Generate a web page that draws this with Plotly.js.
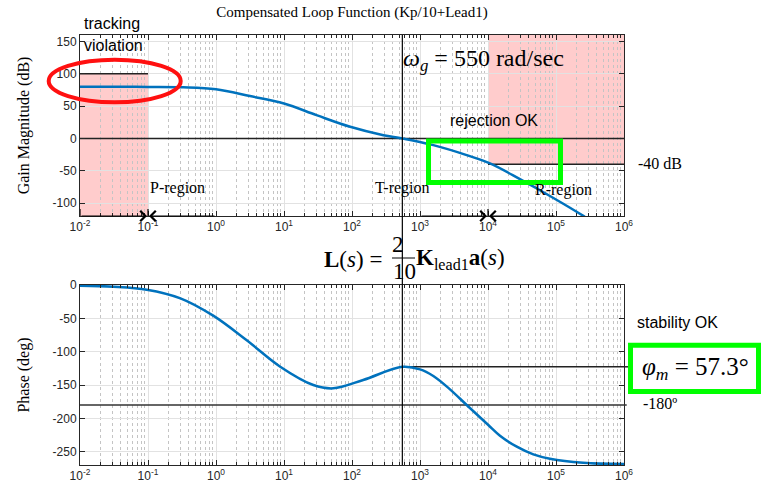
<!DOCTYPE html>
<html><head><meta charset="utf-8">
<script src="https://cdn.plot.ly/plotly-3.0.1.min.js"></script>
<style>html,body{margin:0;padding:0;background:#fff}</style>
</head><body><div id="chart" style="width:761px;height:493px"></div>
<script>
// ---- data ----
const freqGain = [0.01, 0.03, 0.1, 0.33, 1, 3.16, 10, 30, 94, 290, 550, 1570, 4860, 10700, 29500, 81500, 245000, 270000];
const gainDb   = [80, 80, 79.6, 79, 76, 65.5, 54, 36, 18, 5, 0, -10.4, -25.8, -38.7, -63, -89, -119, -122];
const freqPhase = [0.01, 0.031, 0.096, 0.30, 0.91, 2.8, 8.8, 27, 53, 146, 550, 1000, 1570, 2760, 4860, 10100, 15000, 26500, 46400, 81500, 250000, 1000000];
const phaseDeg  = [-1, -2.5, -7, -20, -46, -82.5, -122.5, -150, -155, -142.5, -122.7, -126.5, -136.5, -156.5, -180, -210, -226, -242.5, -254, -260.5, -266.5, -268.5];

const xTickVals = [0.01, 0.1, 1, 10, 100, 1000, 10000, 100000, 1000000];
const xTickText = ['10<sup>-2</sup>','10<sup>-1</sup>','10<sup>0</sup>','10<sup>1</sup>','10<sup>2</sup>','10<sup>3</sup>','10<sup>4</sup>','10<sup>5</sup>','10<sup>6</sup>'];
const gainTickVals = [-100, -50, 0, 50, 100, 150];
const gainTickText = ['-100', '-50', '0', '50', '100', '150'];
const phaseTickVals = [-250, -200, -150, -100, -50, 0];
const phaseTickText = ['-250', '-200', '-150', '-100', '-50', '0'];

const crossoverFreq = 550;       // omega_g
const phaseAtCrossover = -122.7; // -180 + 57.3
const trackBound = 100, trackFreq = 0.1;
const rejectBound = -40, rejectFreq = 10000;

// ---- styling ----
const SERIF = 'Liberation Serif, Times New Roman, serif';
const SANS = 'Liberation Sans, Arial, Helvetica, sans-serif';
const AX = '#262626';
const minorVals = [];
for (let e = -2; e < 6; e++) for (let m = 2; m <= 9; m++) minorVals.push(m * Math.pow(10, e));

function xAxis(extra) {
  return Object.assign({
    type: 'log', range: [-2, 6], tickmode: 'array', tickvals: xTickVals, ticktext: xTickText,
    ticks: 'inside', ticklen: 5, tickcolor: AX, showline: true, linecolor: AX, linewidth: 1,
    mirror: 'ticks', showgrid: true, gridcolor: '#e2e2e2', gridwidth: 1, zeroline: false,
    tickfont: {family: SANS, size: 12, color: AX},
    minor: {tickmode: 'array', tickvals: minorVals, ticks: 'inside', ticklen: 3, tickcolor: AX,
            showgrid: true, gridcolor: '#c4c4c4', griddash: 'dot', gridwidth: 1}
  }, extra);
}
function yAxis(extra) {
  return Object.assign({
    tickmode: 'array', ticks: 'inside', ticklen: 5, tickcolor: AX, showline: true, linecolor: AX,
    linewidth: 1, mirror: 'ticks', showgrid: true, gridcolor: '#e2e2e2', zeroline: false,
    tickfont: {family: SANS, size: 12, color: AX}
  }, extra);
}

const traces = [
  {x: freqGain, y: gainDb, xaxis: 'x', yaxis: 'y', mode: 'lines', hoverinfo: 'skip',
   line: {color: '#0072BD', width: 2.5, shape: 'spline', smoothing: 1}},
  {x: freqPhase, y: phaseDeg, xaxis: 'x2', yaxis: 'y2', mode: 'lines', hoverinfo: 'skip',
   line: {color: '#0072BD', width: 2.5, shape: 'spline', smoothing: 1}}
];

// paper-coordinate helpers for decorations (plot area: x 80..624, y 35..465)
const px = v => (v - 80) / 544;
const py = v => (465 - v) / 430;

const shapes = [
  {type: 'rect', xref: 'x', yref: 'y', x0: 0.01, x1: trackFreq, y0: -120, y1: trackBound,
   fillcolor: 'rgba(255,0,0,0.2)', line: {width: 0}, layer: 'below'},
  {type: 'line', xref: 'x', yref: 'y', x0: 0.01, x1: trackFreq, y0: trackBound, y1: trackBound,
   line: {color: '#222', width: 1.5}, layer: 'between'},
  {type: 'rect', xref: 'x', yref: 'y', x0: rejectFreq, x1: 1e6, y0: rejectBound, y1: 160,
   fillcolor: 'rgba(255,0,0,0.2)', line: {width: 0}, layer: 'below'},
  {type: 'line', xref: 'x', yref: 'y', x0: rejectFreq, x1: 1e6, y0: rejectBound, y1: rejectBound,
   line: {color: '#222', width: 1.5}, layer: 'between'},
  {type: 'line', xref: 'x', yref: 'y', x0: 0.01, x1: 1e6, y0: 0, y1: 0,
   line: {color: '#222', width: 1.5}, layer: 'between'},
  {type: 'line', xref: 'x2', yref: 'y2', x0: 0.01, x1: 1e6, y0: -180, y1: -180,
   line: {color: '#333', width: 1.5}, layer: 'between'},
  {type: 'line', xref: 'paper', yref: 'y2', x0: 1, x1: 1.005, y0: -180, y1: -180,
   line: {color: '#333', width: 1.5}},
  {type: 'line', xref: 'x2', yref: 'y2', x0: crossoverFreq, x1: 1e6, y0: phaseAtCrossover, y1: phaseAtCrossover,
   line: {color: '#222', width: 1.5}, layer: 'between'},
  {type: 'line', xref: 'paper', yref: 'y2', x0: 1, x1: 1.01, y0: phaseAtCrossover, y1: phaseAtCrossover,
   line: {color: '#222', width: 1.5}},
  {type: 'line', xref: 'x', yref: 'paper', x0: crossoverFreq, x1: crossoverFreq, y0: 0, y1: 1,
   line: {color: '#000', width: 1.2}},
  {type: 'line', xref: 'x', yref: 'y', x0: 0.01, x1: 0.01, y0: -109, y1: -125, line: {color: '#000', width: 1.2}},
  {type: 'line', xref: 'x', yref: 'y', x0: trackFreq, x1: trackFreq, y0: -109, y1: -125, line: {color: '#000', width: 1.2}},
  {type: 'line', xref: 'x', yref: 'y', x0: rejectFreq, x1: rejectFreq, y0: -109, y1: -125, line: {color: '#000', width: 1.2}},
  {type: 'circle', xref: 'paper', yref: 'paper', x0: px(48.7), x1: px(180.7), y0: py(102.3), y1: py(59.7),
   line: {color: '#ff1010', width: 4}},
  {type: 'rect', xref: 'paper', yref: 'paper', x0: px(428.5), x1: px(560.5), y0: py(182.5), y1: py(141),
   line: {color: '#00ff00', width: 5}},
  {type: 'rect', xref: 'paper', yref: 'paper', x0: px(630.5), x1: px(758.5), y0: py(391.5), y1: py(345.2),
   fillcolor: '#ffffff', line: {color: '#00ff00', width: 5}},
  {type: 'line', xref: 'paper', yref: 'paper', x0: px(392), x1: px(415), y0: py(258), y1: py(258),
   line: {color: '#000', width: 1}}
];

function txt(text, x, y, font, xanchor) {
  return {text: text, xref: 'paper', yref: 'paper', x: x, y: y, showarrow: false,
          xanchor: xanchor || 'left', yanchor: 'middle', font: font};
}
const fSans = {family: SANS, size: 16, color: '#000'};
const fSerif = {family: SERIF, size: 16, color: '#000'};
const fMath = {family: SERIF, size: 23, color: '#000'};

function arrow(headX, tailX) {
  return {xref: 'x', yref: 'y', axref: 'x', ayref: 'y', x: Math.log10(headX), y: -120,
          ax: Math.log10(tailX), ay: -120, text: '', showarrow: true, arrowhead: 4,
          arrowsize: 2, arrowwidth: 1, arrowcolor: '#000', standoff: 1};
}

const annotations = [
  txt('tracking', px(82), py(23), fSans),
  txt('violation', px(82), py(45), fSans),
  txt('<i>ω</i><sub><i>g</i></sub> = 550 rad/sec', px(401), py(60), {family: SERIF, size: 24, color: '#000'}),
  txt('rejection OK', px(494), py(120), fSans, 'center'),
  txt('-40 dB', px(636), py(163), fSerif),
  txt('P-region', px(148), py(188), fSerif),
  txt('T-region', px(373), py(188), fSerif),
  txt('R-region', px(533), py(190), fSerif),
  txt('<b>L</b>(<i>s</i>) =', px(384), py(259), fMath, 'right'),
  txt('2', px(398), py(244), fMath, 'center'),
  txt('10', px(404), py(271), fMath, 'center'),
  txt('<b>K</b><sub>lead1</sub><b>a</b>(<i>s</i>)', px(414), py(259), fMath),
  txt('stability OK', px(635), py(322), fSans),
  txt('<i>φ</i><sub><i>m</i></sub> = 57.3°', px(695), py(368), {family: SERIF, size: 25, color: '#000'}, 'center'),
  txt('-180º', px(641), py(403), fSerif),
  arrow(trackFreq, 0.01),
  arrow(trackFreq, 1),
  arrow(rejectFreq, 1000),
  arrow(rejectFreq, 100000)
];

const layout = {
  width: 761, height: 493,
  margin: {l: 80, r: 137, t: 35, b: 28},
  paper_bgcolor: '#ffffff', plot_bgcolor: '#ffffff',
  showlegend: false,
  title: {text: 'Compensated Loop Function (Kp/10+Lead1)', font: {family: SERIF, size: 15, color: '#000'},
          xref: 'paper', x: 0.5, xanchor: 'center', yref: 'container', y: 1 - 12 / 493, yanchor: 'middle'},
  xaxis: xAxis({anchor: 'y', domain: [0, 1]}),
  yaxis: yAxis({anchor: 'x', domain: [(465 - 216) / 430, 1], range: [-120, 160],
                tickvals: gainTickVals, ticktext: gainTickText,
                title: {text: 'Gain Magnitude (dB)', font: {family: SERIF, size: 16, color: '#000'}, standoff: 18}}),
  xaxis2: xAxis({anchor: 'y2', domain: [0, 1]}),
  yaxis2: yAxis({anchor: 'x2', domain: [0, (465 - 285) / 430], range: [-270, 0],
                 tickvals: phaseTickVals, ticktext: phaseTickText,
                 title: {text: 'Phase (deg)', font: {family: SERIF, size: 16, color: '#000'}, standoff: 18}}),
  shapes: shapes,
  annotations: annotations
};

Plotly.newPlot('chart', traces, layout, {staticPlot: true, displayModeBar: false});
</script>
</body></html>
